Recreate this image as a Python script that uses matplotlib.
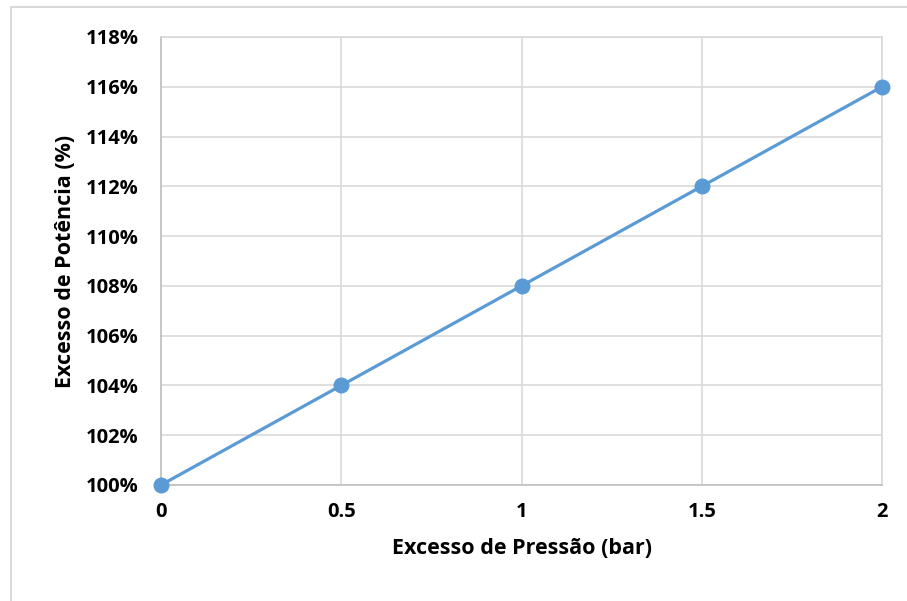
import matplotlib.pyplot as plt
from matplotlib.patches import Rectangle
from matplotlib.ticker import FuncFormatter

pressao = [0, 0.5, 1, 1.5, 2]
potencia = [100, 104, 108, 112, 116]
xticks = [0, 0.5, 1, 1.5, 2]
xticklabels = ['0', '0.5', '1', '1.5', '2']
yticks = list(range(100, 119, 2))

plt.rcParams['font.family'] = ['Open Sans', 'DejaVu Sans']
plt.rcParams['font.weight'] = 'bold'

W, H = 907, 601
fig = plt.figure(figsize=(W / 100, H / 100), dpi=100)

# outer chart frame (partly cropped at right/bottom)
fig.patches.append(Rectangle((11 / W, -0.1), 1.2, 1.1 - 7 / H, transform=fig.transFigure,
                             fill=False, edgecolor='#d9d9d9', linewidth=1.5))

ax = fig.add_axes([161 / W, 1 - 485 / H, (882 - 161) / W, (485 - 37) / H])
ax.plot(pressao, potencia, color='#5b9bd5', linewidth=2.3, marker='o',
        markersize=10.5, zorder=3, clip_on=False)

ax.set_xlim(0, 2)
ax.set_ylim(100, 118)
ax.set_xticks(xticks)
ax.set_xticklabels(xticklabels)
ax.set_yticks(yticks)
ax.yaxis.set_major_formatter(FuncFormatter(lambda v, p: f'{v:.0f}%'))
ax.grid(True, color='#d9d9d9', linewidth=1.2)
ax.set_axisbelow(True)
for s in ax.spines.values():
    s.set_color('#d9d9d9')
    s.set_linewidth(1.2)
ax.spines['left'].set_color('#bfbfbf')
ax.spines['bottom'].set_color('#bfbfbf')
ax.tick_params(length=0, labelsize=14.5, colors='black')
ax.tick_params(axis='y', pad=16)
ax.tick_params(axis='x', pad=12)
for lbl in ax.get_xticklabels() + ax.get_yticklabels():
    lbl.set_fontweight('bold')

ax.set_xlabel('Excesso de Pressão (bar)', fontsize=15.5, fontweight='bold', labelpad=12)
ax.set_ylabel('Excesso de Potência (%)', fontsize=15.5, fontweight='bold', labelpad=7)

fig.savefig('out.png', dpi=100)
